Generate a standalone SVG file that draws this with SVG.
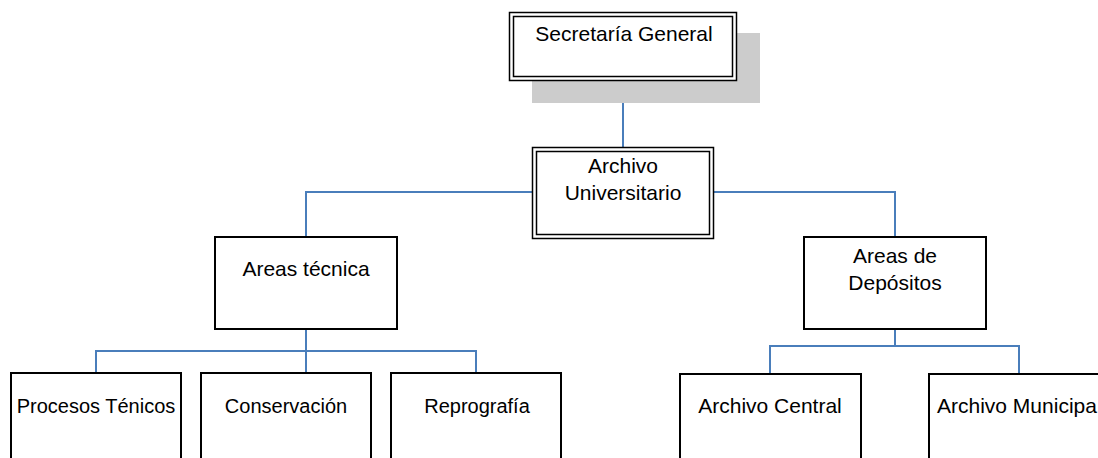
<svg xmlns="http://www.w3.org/2000/svg" width="1098" height="458" viewBox="0 0 1098 458">
<style>
.box{fill:#fff;stroke:#000;stroke-width:2}
.dbl{stroke:#000;stroke-width:1.5}
.t{font-family:"Liberation Sans",Arial,sans-serif;font-size:21px;fill:#000;text-anchor:middle}
.s{font-size:20px}
.c{fill:none;stroke:#4a7ebb;stroke-width:2}
</style>
<rect width="1098" height="458" fill="#fff"/>
<g id="connectors">
<path class="c" d="M623 81V147"/>
<path class="c" d="M532 192H306V237M714 192H895V237"/>
<path class="c" d="M306 329V351M96 373V351H476V373M306 351V373"/>
<path class="c" d="M895 329V346M770 374V346H1019V374"/>
</g>
<g id="n-secretaria">
<rect x="532" y="33" width="228" height="70" fill="#cccccc"/>
<rect x="509.5" y="12.5" width="227" height="68" class="dbl" style="fill:#fff"/>
<rect x="513.5" y="16.5" width="219" height="60" class="dbl" style="fill:none"/>
<text class="t" x="624" y="41">Secretaría General</text>
</g>
<g id="n-archivo-univ">
<rect x="532.5" y="147.5" width="181" height="91" class="dbl" style="fill:#fff"/>
<rect x="536.5" y="151.5" width="173" height="83" class="dbl" style="fill:none"/>
<text class="t" x="623" y="173">Archivo</text>
<text class="t" x="623" y="200">Universitario</text>
</g>
<g id="n-areas-tecnica">
<rect class="box" x="215" y="237" width="182" height="92"/>
<text class="t" x="306" y="276">Areas técnica</text>
</g>
<g id="n-areas-depositos">
<rect class="box" x="804" y="237" width="182" height="92"/>
<text class="t" x="895" y="263">Areas de</text>
<text class="t" x="895" y="290">Depósitos</text>
</g>
<g id="n-procesos">
<rect class="box" x="11" y="373" width="170" height="100"/>
<text class="t s" x="96" y="413">Procesos Ténicos</text>
</g>
<g id="n-conservacion">
<rect class="box" x="201" y="373" width="170" height="100"/>
<text class="t s" x="286" y="413">Conservación</text>
</g>
<g id="n-reprografia">
<rect class="box" x="391" y="373" width="170" height="100"/>
<text class="t s" x="477" y="413">Reprografía</text>
</g>
<g id="n-archivo-central">
<rect class="box" x="680" y="374" width="181" height="100"/>
<text class="t" x="770" y="413">Archivo Central</text>
</g>
<g id="n-archivo-municipal">
<rect class="box" x="929" y="374" width="181" height="100"/>
<text class="t" x="937" y="413" style="text-anchor:start">Archivo Municipa</text>
</g>
</svg>
